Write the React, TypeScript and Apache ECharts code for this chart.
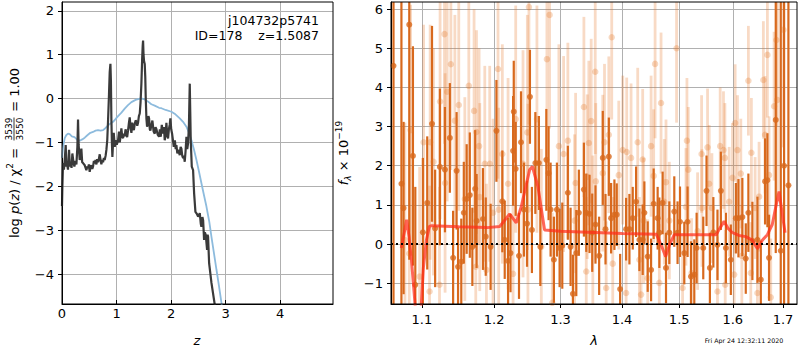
import React, { useEffect, useRef } from 'react';
import * as echarts from 'echarts';

const FONT = 'DejaVu Sans';

// ---------- left panel: p(z) ----------
const zTicks = [0, 1, 2, 3, 4];
const logpTicks = [-4, -3, -2, -1, 0, 1, 2];
const Z_MAX = 4.97;
const LOGP_MIN = -4.68;
const LOGP_MAX = 2.2;

// [z, log p(z)]
const pzCurve = [
  [0.0, -2.45], [0.007, -2.0], [0.019, -1.47], [0.035, -1.62], [0.05, -1.4], [0.068, -1.06], [0.08, -1.55], [0.092, -1.47],
  [0.11, -1.62], [0.129, -1.17], [0.145, -1.55], [0.16, -1.47], [0.175, -1.58], [0.19, -1.25], [0.21, -1.45], [0.227, -1.55],
  [0.245, -1.42], [0.264, -1.5], [0.282, -1.1], [0.294, -0.48], [0.305, -1.05], [0.325, -1.4], [0.355, -1.14], [0.37, -1.45],
  [0.386, -1.47], [0.417, -1.52], [0.447, -1.63], [0.463, -1.55], [0.478, -1.58], [0.493, -1.5], [0.508, -1.67], [0.525, -1.55],
  [0.539, -1.52], [0.555, -1.6], [0.569, -1.55], [0.585, -1.42], [0.6, -1.48], [0.615, -1.4], [0.631, -1.5], [0.645, -1.38],
  [0.661, -1.45], [0.676, -1.38], [0.692, -1.27], [0.707, -1.4], [0.722, -1.5], [0.737, -1.4], [0.753, -1.45], [0.768, -1.35],
  [0.783, -1.4], [0.8, -1.3], [0.814, -1.17], [0.83, -0.95], [0.845, -0.49], [0.862, 0.1], [0.875, 0.6], [0.888, 0.79],
  [0.897, 0.4], [0.906, -0.49], [0.915, -1.0], [0.924, -1.33], [0.937, -1.0], [0.949, -0.78], [0.967, -1.1], [0.985, -0.95],
  [1.005, -1.05], [1.028, -0.95], [1.045, -0.75], [1.059, -1.0], [1.075, -0.85], [1.089, -0.68], [1.105, -0.88], [1.12, -0.9],
  [1.135, -0.8], [1.15, -0.86], [1.165, -0.7], [1.181, -0.78], [1.195, -0.88], [1.212, -0.72], [1.228, -0.55], [1.242, -0.43],
  [1.258, -0.68], [1.273, -0.78], [1.288, -0.55], [1.303, -0.63], [1.318, -0.72], [1.334, -0.58], [1.35, -0.5], [1.365, -0.52],
  [1.38, -0.62], [1.395, -0.55], [1.41, -0.4], [1.426, -0.34], [1.44, -0.1], [1.456, 0.34], [1.47, 0.9], [1.48, 1.2],
  [1.487, 1.32], [1.495, 1.0], [1.505, 0.85], [1.517, 0.79], [1.527, 0.5], [1.536, 0.0], [1.548, -0.45], [1.56, -0.64],
  [1.575, -0.55], [1.585, -0.4], [1.597, -0.45], [1.61, -0.7], [1.621, -0.73], [1.64, -0.6], [1.658, -0.5], [1.68, -0.75],
  [1.701, -0.8], [1.715, -0.65], [1.732, -0.7], [1.755, -0.82], [1.78, -0.87], [1.795, -0.7], [1.811, -0.87], [1.83, -0.6],
  [1.854, -0.8], [1.87, -0.65], [1.884, -0.95], [1.9, -0.8], [1.915, -0.55], [1.93, -0.85], [1.945, -0.91], [1.96, -0.7],
  [1.975, -0.6], [1.988, -0.45], [2.003, -0.7], [2.019, -0.8], [2.035, -0.95], [2.05, -1.1], [2.07, -0.95], [2.085, -1.15],
  [2.098, -1.06], [2.115, -1.25], [2.129, -1.17], [2.145, -1.22], [2.16, -1.29], [2.175, -1.1], [2.19, -1.14], [2.205, -1.3],
  [2.221, -1.36], [2.236, -1.3], [2.251, -1.44], [2.266, -1.2], [2.282, -0.87], [2.297, -1.15], [2.312, -1.02], [2.328, -0.6],
  [2.343, 0.34], [2.352, -0.3], [2.361, -0.95], [2.38, -1.55], [2.404, -1.63], [2.423, -2.16], [2.447, -2.58], [2.47, -2.62],
  [2.496, -2.69], [2.527, -2.61], [2.545, -2.85], [2.557, -2.92], [2.575, -2.7], [2.588, -2.77], [2.606, -3.22], [2.62, -3.05],
  [2.637, -3.11], [2.661, -3.45], [2.67, -3.1], [2.679, -3.15], [2.698, -3.75], [2.741, -4.2], [2.802, -4.7], [2.85, -5.1],
];

// [z, -chi2/2 scaled]
const chi2Curve = [
  [0.0, -1.35], [0.02, -1.1], [0.05, -0.9], [0.08, -0.83], [0.11, -0.8], [0.141, -0.81], [0.18, -0.86], [0.23, -0.88],
  [0.28, -0.94], [0.325, -0.96], [0.37, -0.93], [0.417, -0.89], [0.47, -0.83], [0.52, -0.78], [0.569, -0.76], [0.615, -0.73],
  [0.661, -0.72], [0.707, -0.73], [0.753, -0.72], [0.8, -0.67], [0.845, -0.61], [0.89, -0.57], [0.937, -0.53], [0.98, -0.47],
  [1.028, -0.4], [1.09, -0.32], [1.15, -0.23], [1.21, -0.15], [1.273, -0.08], [1.35, -0.03], [1.426, 0.0], [1.47, 0.0],
  [1.517, -0.02], [1.58, -0.07], [1.639, -0.13], [1.7, -0.16], [1.78, -0.21], [1.823, -0.22], [1.9, -0.26], [2.007, -0.3],
  [2.08, -0.36], [2.16, -0.45], [2.22, -0.53], [2.282, -0.64], [2.33, -0.78], [2.374, -0.95], [2.42, -1.16], [2.466, -1.4],
  [2.51, -1.65], [2.557, -1.93], [2.6, -2.18], [2.649, -2.46], [2.7, -2.8], [2.741, -3.15], [2.79, -3.55], [2.833, -3.9],
  [2.88, -4.28], [2.925, -4.66], [2.96, -5.0],
];

// ---------- right panel: spectrum ----------
const lamTicks = [1.1, 1.2, 1.3, 1.4, 1.5, 1.6, 1.7];
const fluxTicks = [-1, 0, 1, 2, 3, 4, 5, 6];
const LAM_MIN = 1.0598;
const LAM_MAX = 1.7288;
const FLUX_MIN = -1.53;
const FLUX_MAX = 6.18;

// [lambda, flux, error]  (dark, opaque)
const darkPoints = [
  [1.063, 4.55, 7], [1.0732, 1.54, 6], [1.076, 0.92, 2.2], [1.0834, 5.6, 6], [1.0882, 2.25, 2.8], [1.0913, -1.04, 2.5],
  [1.1013, 0.3, 1.9], [1.1071, 1.05, 1.7], [1.1135, 3.07, 2.5], [1.1177, 0.4, 1.5], [1.1241, 1.97, 2.0], [1.131, 1.9, 1.6],
  [1.1377, 2.71, 1.4], [1.1422, -0.35, 1.2], [1.147, 1.87, 1.5], [1.149, -0.58, 1.0], [1.1535, -0.45, 1.1], [1.157, 0.8, 1.3],
  [1.161, 1.15, 1.4], [1.1654, 1.25, 1.6], [1.169, -0.07, 1.0], [1.173, 1.41, 1.5], [1.175, 0.59, 1.2], [1.184, 0.64, 1.3],
  [1.188, 0.19, 1.0], [1.195, -0.07, 1.1],
  [1.2034, 2.89, 1.3], [1.212, 1.09, 1.3], [1.2155, 0.11, 1.0], [1.2204, -0.43, 1.1], [1.224, -0.23, 1.0], [1.2278, 2.38, 1.4],
  [1.2288, 3.38, 1.3], [1.2317, 1.92, 1.2], [1.2366, -0.3, 1.1], [1.2396, 2.6, 1.3], [1.244, 0.88, 1.2], [1.2486, 0.52, 1.1],
  [1.253, 3.76, 1.2], [1.256, 0.36, 1.1], [1.2612, 2.07, 1.3], [1.2666, 2.07, 1.2], [1.2688, -0.07, 1.0], [1.278, 2.15, 1.3],
  [1.2815, 1.81, 1.2], [1.2846, 0.88, 1.2], [1.2897, -0.4, 1.1], [1.2944, 0.88, 1.2], [1.2986, -0.1, 1.0], [1.3028, -0.04, 1.1],
  [1.3116, 1.31, 1.2], [1.3159, -0.07, 1.0], [1.3196, -1.27, 1.0], [1.325, -0.23, 1.1], [1.3291, 0.8, 1.1], [1.3372, 1.39, 1.2],
  [1.341, 0.8, 1.0], [1.3463, 0.77, 1.0], [1.3507, 0.29, 1.0], [1.356, 0.5, 1.0], [1.362, -0.3, 1.0],
  [1.368, 2.2, 1.2], [1.3725, 0.38, 0.9], [1.378, 2.23, 1.0], [1.3818, 0.66, 0.9], [1.3873, 0.75, 0.9], [1.3912, 0.75, 0.8],
  [1.3969, -1.15, 0.9], [1.407, 0.38, 0.8], [1.4126, 0.38, 0.9], [1.4183, 0.66, 0.8], [1.424, 1.08, 0.9], [1.4297, 0.11, 0.8],
  [1.4354, 0.11, 0.9], [1.4383, 0.8, 0.8], [1.4441, -0.32, 0.9], [1.45, -0.66, 0.8], [1.4545, 1.03, 0.9], [1.4615, 0.66, 0.8],
  [1.4645, 0.29, 0.9], [1.4703, 1.05, 0.8], [1.4763, -0.61, 0.9], [1.4822, 0.29, 0.8], [1.4911, 0.83, 0.9], [1.497, 0.29, 0.8],
  [1.5014, 0.57, 0.9], [1.5092, -0.23, 0.8], [1.5152, 0.57, 0.9], [1.5214, -0.83, 0.9],
  [1.5275, -0.78, 0.9], [1.5318, -0.1, 0.9], [1.5441, -0.1, 0.8], [1.5502, 1.36, 0.9], [1.5565, -0.61, 0.9], [1.563, 0.3, 0.9],
  [1.5708, -0.02, 0.9], [1.5772, 1.36, 1.0], [1.5868, -0.1, 0.9], [1.5963, -0.4, 0.9], [1.606, 0.66, 0.9], [1.611, 0.66, 1.0],
  [1.6186, 0.69, 1.0], [1.6253, -0.37, 0.9], [1.6304, 0.8, 1.0], [1.6383, 0.08, 1.0], [1.6483, 0.11, 1.1], [1.655, -0.91, 1.0],
  [1.6635, 1.6, 1.1], [1.6682, 1.63, 1.2], [1.6715, -0.35, 1.1], [1.6851, 3.17, 3.4], [1.6953, -0.17, 6.5], [1.7021, 2.0, 6],
  [1.711, 1.5, 8],
];

// [lambda, flux, error]  (light, transparent)
const lightPoints = [
  [1.0778, 0.1, 3.0], [1.0834, -0.24, 3.2], [1.0851, 2.91, 3.2], [1.097, -0.83, 2.8], [1.1023, 2.6, 3.0], [1.1102, -1.21, 2.7],
  [1.111, 2.6, 3.0], [1.1155, 2.1, 2.9], [1.1236, -1.04, 2.5], [1.1244, 3.64, 3.0], [1.1304, 5.36, 2.8], [1.1312, 1.56, 2.8],
  [1.134, 3.89, 2.8], [1.1391, 4.59, 2.7], [1.1446, 3.15, 2.7], [1.15, 3.55, 2.7], [1.1584, 1.15, 2.6], [1.164, 4.04, 2.7],
  [1.1714, 3.4, 2.6], [1.1738, -0.58, 2.3], [1.1748, 2.86, 2.6], [1.1785, 2.5, 2.5], [1.1795, 1.2, 2.4], [1.1866, 2.05, 2.5],
  [1.189, -0.66, 2.2], [1.1937, 2.05, 2.5], [1.1985, 0.8, 2.4], [1.2057, 4.47, 2.8], [1.2067, 0.88, 2.6], [1.212, 2.3, 2.8],
  [1.2204, 1.54, 2.7], [1.2278, -0.76, 2.4], [1.2317, 3.19, 2.9], [1.2426, 2.05, 2.9], [1.2491, 2.85, 3.0], [1.25, 0.88, 2.7],
  [1.2515, 6.05, 3.0], [1.2636, 3.19, 2.9], [1.2703, -0.07, 2.5], [1.2789, 4.72, 2.8], [1.283, 5.85, 2.9], [1.2872, -1.5, 2.3],
  [1.2975, 2.5, 2.6], [1.3049, 2.3, 2.5], [1.3116, 2.64, 2.5], [1.3223, 0.6, 2.2], [1.3239, 1.56, 2.3], [1.3372, 3.5, 2.3],
  [1.341, -0.7, 1.9], [1.3426, 1.72, 2.1], [1.3452, 2.58, 2.1], [1.349, 3.14, 2.1], [1.3517, 0.36, 1.9], [1.3556, 4.4, 2.1],
  [1.3565, 1.6, 2.0], [1.368, 1.81, 2.0], [1.3708, 2.6, 2.0], [1.3736, -1.12, 1.7], [1.378, 2.79, 2.0], [1.3828, 5.28, 2.1],
  [1.3845, -0.5, 1.7], [1.3946, 1.76, 1.9], [1.4013, 2.4, 1.9], [1.407, -1.25, 1.6], [1.408, 2.35, 1.9], [1.4154, 2.2, 1.9],
  [1.4268, 2.6, 1.9], [1.4297, -0.4, 1.6], [1.4326, -1.29, 1.5], [1.4354, 2.16, 1.8], [1.4371, 0.6, 1.6], [1.4441, -0.87, 1.5],
  [1.45, 2.5, 1.8], [1.4545, 1.74, 1.7], [1.457, 4.6, 1.9], [1.4645, -0.99, 1.5], [1.4675, 3.6, 1.8], [1.4733, 1.08, 1.6],
  [1.4763, 1.58, 1.6], [1.4822, 0.6, 1.5], [1.4952, 5.0, 1.9], [1.5061, -1.12, 1.4], [1.5122, 0.95, 1.5], [1.514, 2.64, 1.6],
  [1.5165, 1.9, 1.6], [1.5225, -0.74, 1.4], [1.5336, 0.33, 1.5], [1.541, 2.3, 1.5], [1.5417, 0.92, 1.5], [1.5521, 2.47, 1.5],
  [1.5552, 1.54, 1.5], [1.5603, 0.92, 1.4], [1.5708, -1.21, 1.4], [1.5759, 2.5, 1.5], [1.5822, 2.4, 1.5], [1.5849, 2.2, 1.4],
  [1.5855, -1.04, 1.4], [1.5931, 1.08, 1.4], [1.5994, 1.69, 1.4], [1.6027, -0.78, 1.4], [1.6046, 3.09, 1.5], [1.6091, 2.4, 1.4],
  [1.6156, 1.8, 1.4], [1.6176, -0.3, 1.3], [1.6304, 4.17, 1.4], [1.6351, -0.74, 1.3], [1.6363, 2.33, 1.4], [1.6437, 0.92, 1.3],
  [1.6483, -1.25, 1.3], [1.6516, 1.21, 1.4], [1.6601, 4.19, 1.5], [1.6635, 2.79, 1.5], [1.6682, 4.83, 1.6], [1.6715, 1.76, 1.5],
  [1.675, -1.36, 1.5], [1.6817, 3.52, 1.9], [1.6864, 5.21, 2.2], [1.6884, 3.68, 2.6], [1.7007, 5.47, 3.0],
];

// [lambda, model flux]
const modelCurve = [
  [1.073, -0.1], [1.077, 0.3], [1.08, 0.62], [1.083, 0.2], [1.086, -0.35], [1.09, -1.3], [1.094, -2.3], [1.098, -2.0],
  [1.102, -0.6], [1.106, 0.1], [1.11, 0.45], [1.113, 0.47], [1.15, 0.44], [1.19, 0.42], [1.2082, 0.45], [1.2228, 0.77],
  [1.2325, 0.54], [1.24, 0.96], [1.2526, 1.9], [1.2567, 1.98], [1.2651, 1.47], [1.2712, 0.8], [1.2753, 0.36], [1.3, 0.33],
  [1.4, 0.27], [1.4592, 0.25], [1.467, 0.0], [1.4756, -0.32], [1.483, 0.0], [1.4911, 0.24], [1.5683, 0.24], [1.576, 0.42],
  [1.5834, 0.58], [1.591, 0.4], [1.5994, 0.29], [1.612, 0.22], [1.6253, 0.19], [1.638, 0.1], [1.6483, -0.12], [1.658, 0.1],
  [1.6682, 0.24], [1.678, 0.5], [1.686, 1.0], [1.6918, 1.34], [1.698, 0.8], [1.7041, 0.29],
];

const minus = (v: number) => (v < 0 ? '\u2212' + Math.abs(v) : String(v));

const DARK = '#d8691d';
const LIGHT_BAR = 'rgba(228,118,40,0.27)';
const LIGHT_PT = 'rgba(228,118,40,0.36)';

function errBar(width: number, color: string) {
  return (params: any, api: any) => {
    const x = api.value(0);
    const y = api.value(1);
    const e = api.value(2);
    const p1 = api.coord([x, y + e]);
    const p2 = api.coord([x, y - e]);
    const cs = params.coordSys;
    const top = Math.max(cs.y, p1[1]);
    const bot = Math.min(cs.y + cs.height, p2[1]);
    if (bot <= top) return { type: 'group', children: [] };
    return {
      type: 'rect',
      shape: { x: p1[0] - width / 2, y: top, width, height: bot - top },
      style: { fill: color },
    };
  };
}

const tickLabel = (margin: number) => ({
  color: '#000',
  fontSize: 13,
  fontFamily: FONT,
  margin,
});

export default function App() {
  const ref = useRef<HTMLDivElement>(null);
  useEffect(() => {
    if (!ref.current) return;
    const chart = echarts.init(ref.current, undefined, { renderer: 'svg' });
    const ln = Math.log;
    const lnTicks = lamTicks.map((l) => ln(l));
    const toLn = (arr: number[][]) => arr.map((d) => [ln(d[0]), d[1], d[2]]);
    const darkData = toLn(darkPoints);
    const lightData = toLn(lightPoints);

    const gridLine = { show: true, lineStyle: { color: '#b0b0b0', width: 1 } };
    const axisLine = { show: true, onZero: false, lineStyle: { color: '#000', width: 1 } };

    const option: any = {
      animation: false,
      grid: [
        { left: 62, top: 2, width: 271, height: 302, show: false },
        { left: 391, top: 2, width: 406, height: 302, show: false },
      ],
      xAxis: [
        {
          gridIndex: 0, type: 'value', min: 0, max: Z_MAX,
          axisLine,
          axisTick: { show: true, inside: true, length: 4, lineStyle: { color: '#000' }, customValues: zTicks },
          axisLabel: { ...tickLabel(3), customValues: zTicks, formatter: (v: number) => minus(v) },
          splitLine: gridLine,
        },
        {
          gridIndex: 1, type: 'value', min: ln(LAM_MIN), max: ln(LAM_MAX),
          axisLine,
          axisTick: { show: true, length: 4, lineStyle: { color: '#000' }, customValues: lnTicks },
          axisLabel: { ...tickLabel(9), customValues: lnTicks, formatter: (v: number) => Math.exp(v).toFixed(1) },
          splitLine: gridLine,
        },
      ],
      yAxis: [
        {
          gridIndex: 0, type: 'value', min: LOGP_MIN, max: LOGP_MAX,
          axisLine,
          axisTick: { show: true, length: 4, lineStyle: { color: '#000' }, customValues: logpTicks },
          axisLabel: { ...tickLabel(8), customValues: logpTicks, formatter: (v: number) => minus(v) },
          splitLine: gridLine,
        },
        {
          gridIndex: 1, type: 'value', min: FLUX_MIN, max: FLUX_MAX, splitNumber: 8,
          axisLine,
          axisTick: { show: true, length: 4, lineStyle: { color: '#000' }, customValues: fluxTicks },
          axisLabel: { ...tickLabel(8), customValues: fluxTicks, formatter: (v: number) => minus(v) },
          splitLine: gridLine,
        },
      ],
      series: [
        {
          type: 'line', xAxisIndex: 0, yAxisIndex: 0, data: chi2Curve, showSymbol: false, silent: true,
          lineStyle: { color: '#8dbbdd', width: 1.8 },
        },
        {
          type: 'line', xAxisIndex: 0, yAxisIndex: 0, data: pzCurve, showSymbol: false, silent: true,
          lineStyle: { color: '#3a3a3a', width: 2.2 },
        },
        {
          type: 'custom', xAxisIndex: 1, yAxisIndex: 1, data: lightData, silent: true,
          encode: { x: 0, y: 1 }, renderItem: errBar(2.8, LIGHT_BAR),
        },
        {
          type: 'scatter', xAxisIndex: 1, yAxisIndex: 1, data: lightData.map((d) => [d[0], d[1]]), silent: true,
          symbolSize: 6.5, itemStyle: { color: LIGHT_PT },
        },
        {
          type: 'custom', xAxisIndex: 1, yAxisIndex: 1, data: darkData, silent: true,
          encode: { x: 0, y: 1 }, renderItem: errBar(2.2, DARK),
        },
        {
          type: 'scatter', xAxisIndex: 1, yAxisIndex: 1, data: darkData.map((d) => [d[0], d[1]]), silent: true,
          symbolSize: 6, itemStyle: { color: DARK },
        },
        {
          type: 'line', xAxisIndex: 1, yAxisIndex: 1, data: modelCurve.map((d) => [ln(d[0]), d[1]]),
          showSymbol: false, silent: true, lineStyle: { color: 'rgba(255,45,25,0.72)', width: 3 },
        },
        {
          type: 'line', xAxisIndex: 1, yAxisIndex: 1, data: [[ln(LAM_MIN), 0], [ln(LAM_MAX), 0]],
          showSymbol: false, silent: true, lineStyle: { color: '#000', width: 2, type: [2, 3] },
        },
      ],
      graphic: [
        { type: 'rect', z: 100, silent: true, shape: { x: 62, y: 2, width: 271, height: 302 }, style: { fill: 'none', stroke: '#000', lineWidth: 1 } },
        { type: 'rect', z: 100, silent: true, shape: { x: 391, y: 2, width: 406, height: 302 }, style: { fill: 'none', stroke: '#000', lineWidth: 1 } },
        {
          type: 'text', x: 319, y: 20, z: 100,
          style: { text: 'j104732p5741', fontSize: 12.5, fontFamily: FONT, fill: '#000', align: 'right', verticalAlign: 'middle', textAlign: 'right', textVerticalAlign: 'middle' },
        },
        {
          type: 'text', x: 319, y: 35, z: 100,
          style: { text: 'ID=178    z=1.5087', fontSize: 12.5, fontFamily: FONT, fill: '#000', align: 'right', verticalAlign: 'middle', textAlign: 'right', textVerticalAlign: 'middle' },
        },
        {
          type: 'text', x: 197, y: 340, z: 100,
          style: { text: 'z', fontSize: 13, fontStyle: 'italic', fontFamily: FONT, fill: '#000', align: 'center', verticalAlign: 'middle', textAlign: 'center', textVerticalAlign: 'middle' },
        },
        {
          type: 'text', x: 594, y: 340, z: 100,
          style: { text: 'λ', fontSize: 13, fontStyle: 'italic', fontFamily: FONT, fill: '#000', align: 'center', verticalAlign: 'middle', textAlign: 'center', textVerticalAlign: 'middle' },
        },
        {
          type: 'text', x: 744, y: 340, z: 100,
          style: { text: 'Fri Apr 24 12:32:11 2020', fontSize: 6.3, fontFamily: FONT, fill: '#000', align: 'center', verticalAlign: 'middle', textAlign: 'center', textVerticalAlign: 'middle' },
        },
        {
          type: 'group', x: 14, y: 238, rotation: Math.PI / 2, z: 100,
          children: [
            {
              type: 'text', x: 0, y: 0,
              style: {
                text: 'log {i|p}({i|z}) / χ{sup|2} = ',
                fontSize: 13, fontFamily: FONT, fill: '#000', lineHeight: 18,
                align: 'left', verticalAlign: 'middle', textAlign: 'left', textVerticalAlign: 'middle',
                rich: {
                  i: { fontSize: 13, fontFamily: FONT, fontStyle: 'italic', fill: '#000', lineHeight: 18 },
                  sup: { fontSize: 9, fontFamily: FONT, fill: '#000', verticalAlign: 'top', lineHeight: 10 },
                },
              },
            },
            {
              type: 'text', x: 109, y: -5.5,
              style: { text: '3539', fontSize: 9, fontFamily: FONT, fill: '#000', align: 'center', verticalAlign: 'middle', textAlign: 'center', textVerticalAlign: 'middle' },
            },
            { type: 'line', shape: { x1: 97.5, y1: 0, x2: 120.5, y2: 0 }, style: { stroke: '#000', lineWidth: 0.8 } },
            {
              type: 'text', x: 109, y: 5.5,
              style: { text: '3550', fontSize: 9, fontFamily: FONT, fill: '#000', align: 'center', verticalAlign: 'middle', textAlign: 'center', textVerticalAlign: 'middle' },
            },
            {
              type: 'text', x: 122, y: 0,
              style: { text: ' = 1.00', fontSize: 13, fontFamily: FONT, fill: '#000', align: 'left', verticalAlign: 'middle', textAlign: 'left', textVerticalAlign: 'middle' },
            },
          ],
        },
        {
          type: 'text', x: 343, y: 153, rotation: Math.PI / 2, z: 100,
          style: {
            text: '{i|f}{sub|λ} × 10{sup|−19}',
            fontSize: 13, fontFamily: FONT, fill: '#000', lineHeight: 18,
            align: 'center', verticalAlign: 'middle', textAlign: 'center', textVerticalAlign: 'middle',
            rich: {
              i: { fontSize: 13, fontFamily: FONT, fontStyle: 'italic', fill: '#000', lineHeight: 18 },
              sub: { fontSize: 9, fontFamily: FONT, fontStyle: 'italic', fill: '#000', verticalAlign: 'bottom', lineHeight: 10 },
              sup: { fontSize: 9, fontFamily: FONT, fill: '#000', verticalAlign: 'top', lineHeight: 10 },
            },
          },
        },
      ],
    };
    chart.setOption(option);
    return () => chart.dispose();
  }, []);
  return <div ref={ref} style={{ position: 'absolute', left: 0, top: 0, width: 800, height: 350 }} />;
}
